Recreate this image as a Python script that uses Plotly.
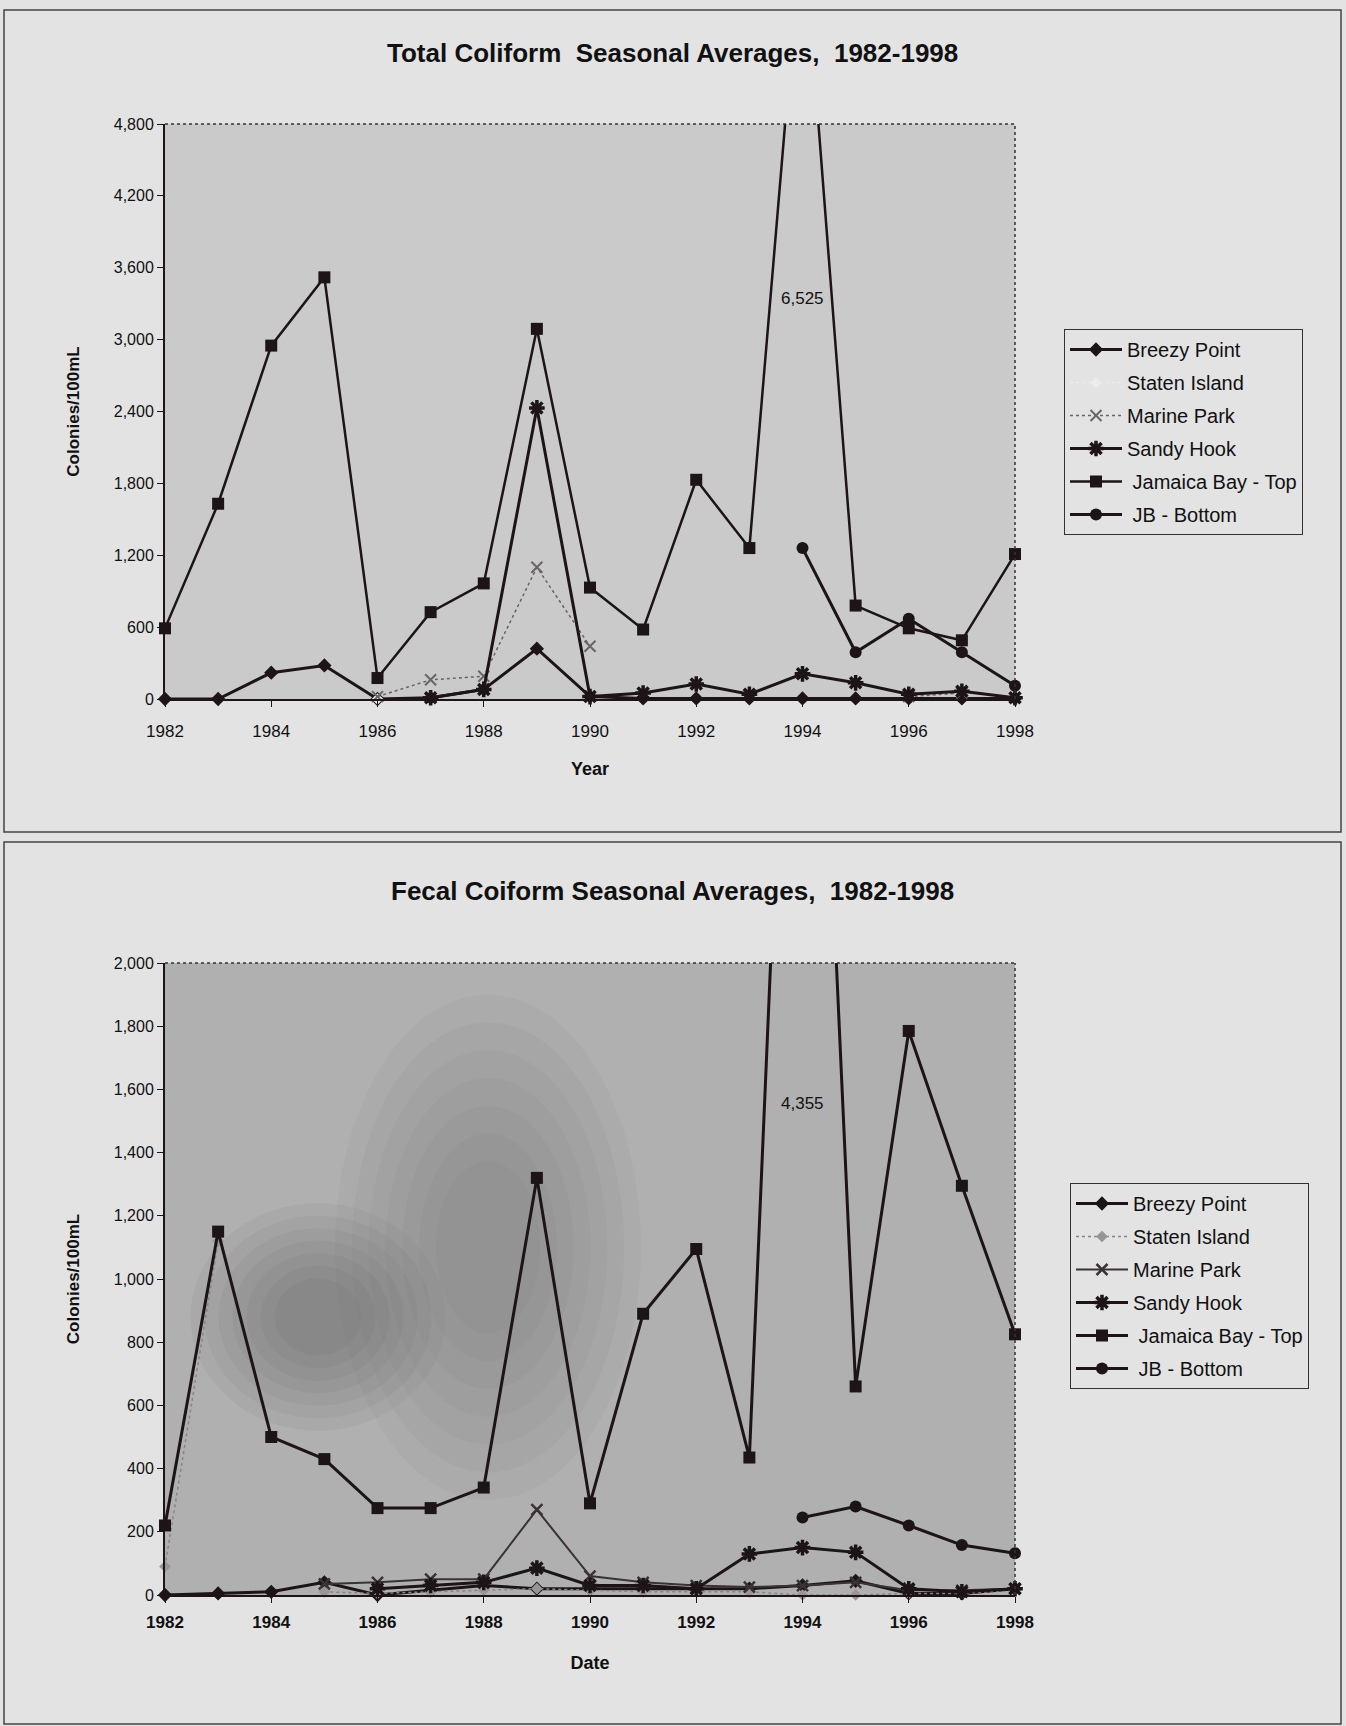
import plotly.graph_objects as go

years = list(range(1982, 1999))

# ---- Total Coliform (top chart) ----
breezy_tc = [0, 0, 220, 280, 0, 10, 80, 420, 20, 5, 5, 5, 5, 5, 5, 5, 5]
staten_tc = [None, None, None, None, 0, None, None, None, None, None, None, None, None, None, None, None, None]
marine_tc = [None, None, None, None, 20, 160, 190, 1100, 440, None, None, None, None, None, 20, 50, None]
sandy_tc = [None, None, None, None, None, 10, 80, 2430, 20, 50, 125, 40, 210, 135, 40, 65, 10]
jbtop_tc = [590, 1630, 2950, 3520, 175, 725, 965, 3090, 930, 580, 1830, 1260, 6525, 780, 590, 490, 1210]
jbbot_tc = [None, None, None, None, None, None, None, None, None, None, None, None, 1260, 390, 670, 390, 110]

# ---- Fecal Coliform (bottom chart) ----
breezy_fc = [0, 5, 10, 40, 0, 15, 30, 20, 20, 20, 20, 20, 30, 45, 5, 5, 20]
staten_fc = [90, 1120, None, 10, 5, 10, 15, 20, 15, 10, 10, 10, 0, 0, 5, 5, 15]
marine_fc = [None, None, None, 35, 40, 50, 50, 270, 60, 40, 30, 25, 30, 40, 15, 15, 20]
sandy_fc = [None, None, None, None, 20, 30, 40, 85, 30, 30, 20, 130, 150, 135, 20, 10, 20]
jbtop_fc = [220, 1150, 500, 430, 275, 275, 340, 1320, 290, 890, 1095, 435, 4355, 660, 1785, 1295, 825]
jbbot_fc = [None, None, None, None, None, None, None, None, None, None, None, None, 245, 280, 220, 158, 132]

series_names = ["Breezy Point", "Staten Island", "Marine Park", "Sandy Hook",
                "\u00a0Jamaica Bay - Top", "\u00a0JB - Bottom"]

tc_ticks = [0, 600, 1200, 1800, 2400, 3000, 3600, 4200, 4800]
fc_ticks = [0, 200, 400, 600, 800, 1000, 1200, 1400, 1600, 1800, 2000]
year_ticks = list(range(1982, 1999, 2))

FONT = "Liberation Sans"
INK = "#1c1416"
PAGE = "#e3e3e3"
W, H = 1346, 1726

fig = go.Figure()

def add(name, ys, xa, ya, leg, color, width, dash, symbol, msize, mcolor, mline=0, group=""):
    fig.add_trace(go.Scatter(
        x=years, y=ys, name=name, mode="lines+markers",
        xaxis=xa, yaxis=ya, legend=leg, legendgroup=group + name,
        line=dict(color=color, width=width, dash=dash),
        marker=dict(symbol=symbol, size=msize, color=mcolor,
                    line=dict(width=mline, color=mcolor)),
        connectgaps=False, cliponaxis=False,
    ))

# top
add(series_names[0], breezy_tc, "x", "y", "legend", INK, 3, "solid", "diamond", 11, INK, group="t")
add(series_names[1], staten_tc, "x", "y", "legend", "#ececec", 1.5, "dot", "diamond", 9, "#ececec", group="t")
add(series_names[2], marine_tc, "x", "y", "legend", "#6a6466", 1.5, "dot", "x-thin-open", 11, "#6a6466", 2, group="t")
add(series_names[3], sandy_tc, "x", "y", "legend", INK, 3, "solid", "asterisk-open", 13, INK, 3.5, group="t")
add(series_names[4], jbtop_tc, "x", "y", "legend", INK, 2.5, "solid", "square", 12, INK, group="t")
add(series_names[5], jbbot_tc, "x", "y", "legend", INK, 3, "solid", "circle", 12, INK, group="t")

# bottom
add(series_names[0], breezy_fc, "x2", "y2", "legend2", INK, 3, "solid", "diamond", 11, INK, group="b")
add(series_names[1], staten_fc, "x2", "y2", "legend2", "#8a8486", 1.5, "dot", "diamond", 9, "#9a9496", group="b")
add(series_names[2], marine_fc, "x2", "y2", "legend2", "#3a3234", 2, "solid", "x-thin-open", 11, "#3a3234", 2.5, group="b")
add(series_names[3], sandy_fc, "x2", "y2", "legend2", INK, 3, "solid", "asterisk-open", 13, INK, 3.5, group="b")
add(series_names[4], jbtop_fc, "x2", "y2", "legend2", INK, 3, "solid", "square", 12, INK, group="b")
add(series_names[5], jbbot_fc, "x2", "y2", "legend2", INK, 3, "solid", "circle", 12, INK, group="b")

def px_x(v):
    return v / W

def px_y(v):
    return 1 - v / H

xdom = [px_x(165), px_x(1015)]

xcommon = dict(range=[1982, 1998], tickvals=year_ticks, ticks="outside", ticklen=6,
               tickcolor=INK, showline=True, linecolor=INK, linewidth=2,
               showgrid=False, zeroline=False, domain=xdom, automargin=False)
ycommon = dict(ticks="outside", ticklen=6, tickcolor=INK, showline=True, linecolor=INK,
               linewidth=2, showgrid=False, zeroline=False, tickformat=",d", automargin=False,
               tickfont=dict(family=FONT, size=16, color="#111"))

fig.update_layout(
    width=W, height=H,
    margin=dict(l=0, r=0, t=0, b=0, autoexpand=False),
    paper_bgcolor=PAGE,
    plot_bgcolor="#cacaca",
    font=dict(family=FONT, color="#111"),
    showlegend=True,
    xaxis=dict(**xcommon, anchor="y", ticklabelstandoff=10,
               tickfont=dict(family=FONT, size=17, color="#111"),
               title=dict(text="<b>Year</b>", font=dict(family=FONT, size=18), standoff=22)),
    yaxis=dict(**ycommon, domain=[px_y(699), px_y(124)], range=[0, 4800], tickvals=tc_ticks,
               anchor="x",
               title=dict(text="<b>Colonies/100mL</b>", font=dict(family=FONT, size=17), standoff=30)),
    xaxis2=dict(**xcommon, anchor="y2", ticklabelstandoff=5,
                tickfont=dict(family=FONT, size=17, color="#111", weight="bold"),
                title=dict(text="<b>Date</b>", font=dict(family=FONT, size=18), standoff=25)),
    yaxis2=dict(**ycommon, domain=[px_y(1595), px_y(963)], range=[0, 2000], tickvals=fc_ticks,
                anchor="x2",
                title=dict(text="<b>Colonies/100mL</b>", font=dict(family=FONT, size=17), standoff=30)),
    legend=dict(x=px_x(1064), y=px_y(329), xanchor="left", yanchor="top",
                bgcolor=PAGE, bordercolor="#333", borderwidth=1,
                font=dict(family=FONT, size=20, color="#111"),
                tracegroupgap=4, itemwidth=52),
    legend2=dict(x=px_x(1070), y=px_y(1183), xanchor="left", yanchor="top",
                 bgcolor=PAGE, bordercolor="#333", borderwidth=1,
                 font=dict(family=FONT, size=20, color="#111"),
                 tracegroupgap=4, itemwidth=52),
)

shapes = []
# page frames
shapes.append(dict(type="rect", xref="paper", yref="paper", x0=px_x(4), x1=px_x(1341),
                   y0=px_y(832), y1=px_y(10), line=dict(color="#444", width=1.5), layer="below"))
shapes.append(dict(type="rect", xref="paper", yref="paper", x0=px_x(4), x1=px_x(1341),
                   y0=px_y(1724), y1=px_y(842), line=dict(color="#444", width=1.5), layer="below"))
# bottom plot background (darker stipple)
shapes.append(dict(type="rect", xref="x2 domain", yref="y2 domain", x0=0, x1=1, y0=0, y1=1,
                   fillcolor="#b0b0b0", line=dict(width=0), layer="below"))
# soft scanning blotches in bottom chart (stacked translucent ellipses)
blotches = [
    (0.03, 0.33, 0.26, 0.62, "#4a4a4a"),
    (0.20, 0.56, 0.15, 0.95, "#6c6c6c"),
]
for bx0, bx1, by0, by1, col in blotches:
    for k in range(7):
        sx = (bx1 - bx0) * 0.055 * k
        sy = (by1 - by0) * 0.055 * k
        shapes.append(dict(type="circle", xref="x2 domain", yref="y2 domain",
                           x0=bx0 + sx, x1=bx1 - sx, y0=by0 + sy, y1=by1 - sy,
                           fillcolor=col, opacity=0.06, line=dict(width=0), layer="below"))
# dotted top/right borders
for xr, yr in (("x domain", "y domain"), ("x2 domain", "y2 domain")):
    shapes.append(dict(type="line", xref=xr, yref=yr, x0=0, x1=1, y0=1, y1=1,
                       line=dict(color="#333", width=1.5, dash="dot")))
    shapes.append(dict(type="line", xref=xr, yref=yr, x0=1, x1=1, y0=0, y1=1,
                       line=dict(color="#333", width=1.5, dash="dot")))
fig.update_layout(shapes=shapes)

fig.add_annotation(text="<b>Total Coliform  Seasonal Averages,  1982-1998</b>", xref="paper", yref="paper",
                   x=px_x(672), y=px_y(53), xanchor="center", yanchor="middle", showarrow=False,
                   font=dict(family=FONT, size=26, color="#111"))
fig.add_annotation(text="<b>Fecal Coiform Seasonal Averages,  1982-1998</b>", xref="paper", yref="paper",
                   x=px_x(672), y=px_y(891), xanchor="center", yanchor="middle", showarrow=False,
                   font=dict(family=FONT, size=26, color="#111"))
fig.add_annotation(text="6,525", x=1994, y=3340, xref="x", yref="y", showarrow=False,
                   xanchor="center", yanchor="middle", font=dict(family=FONT, size=17, color="#111"))
fig.add_annotation(text="4,355", x=1994, y=1555, xref="x2", yref="y2", showarrow=False,
                   xanchor="center", yanchor="middle", font=dict(family=FONT, size=17, color="#111"))

fig.write_html("out.html")
